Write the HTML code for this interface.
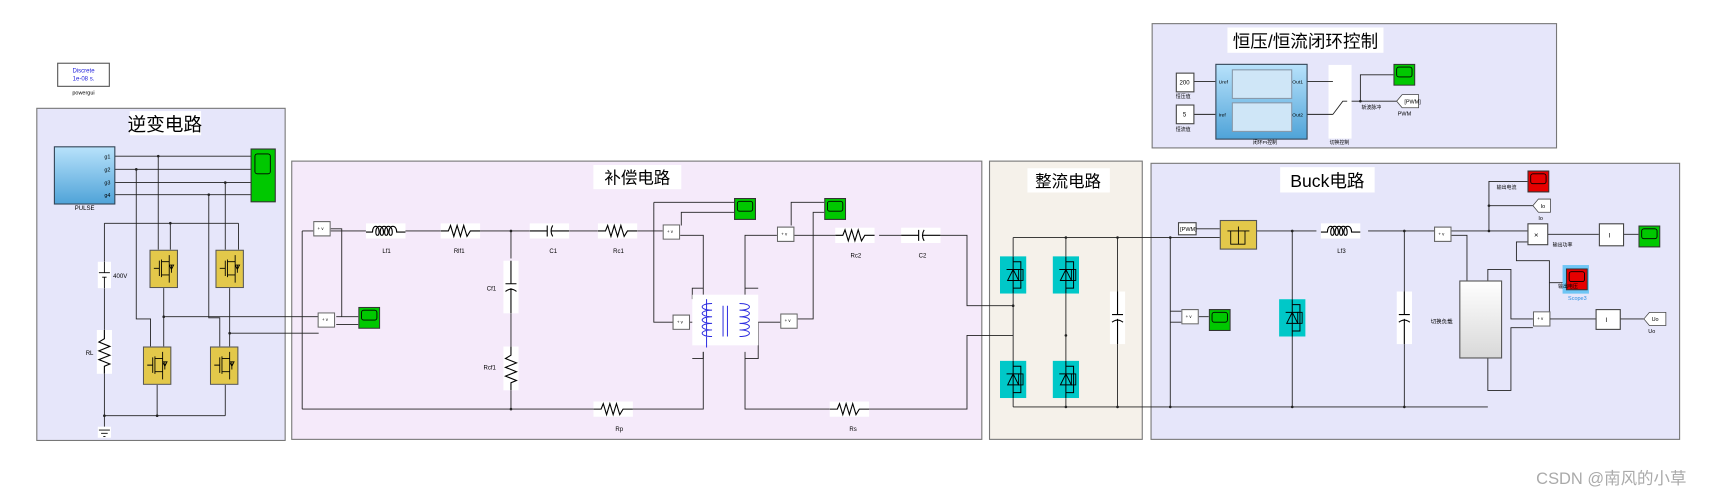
<!DOCTYPE html>
<html><head><meta charset="utf-8"><style>
html,body{margin:0;padding:0;background:#fff;}
svg{display:block;}
text{font-family:"Liberation Sans","Noto Sans CJK SC",sans-serif;}
</style></head><body>
<svg width="1723" height="496" viewBox="0 0 1568 451" preserveAspectRatio="none" xmlns="http://www.w3.org/2000/svg">
<defs>
<linearGradient id="pg" x1="0" y1="0" x2="0" y2="1"><stop offset="0" stop-color="#b8e2fb"/><stop offset="1" stop-color="#4fa3d8"/></linearGradient>
<linearGradient id="lg" x1="0" y1="0" x2="0" y2="1"><stop offset="0" stop-color="#fff"/><stop offset="1" stop-color="#d8d8d8"/></linearGradient>
<symbol id="res" viewBox="0 0 36 14" width="36" height="14"><rect width="36" height="14" fill="#fff"/><path d="M0 7H7L9 2L12 12L15 2L18 12L21 2L24 12L27 7H36" fill="none" stroke="#000" stroke-width="1"/></symbol>
<symbol id="resv" viewBox="0 0 14 40" width="14" height="40"><rect width="14" height="40" fill="#fff"/><path d="M7 0V8L2 11L12 15L2 19L12 23L2 27L12 31L7 33V40" fill="none" stroke="#000" stroke-width="1"/></symbol>
<symbol id="ind" viewBox="0 0 36 14" width="36" height="14"><rect width="36" height="14" fill="#fff"/><path d="M0 8H6C6 1 12 1 12 8C12 12 9 12 9 8C9 1 16 1 16 8C16 12 13 12 13 8C13 1 20 1 20 8C20 12 17 12 17 8C17 1 24 1 24 8C24 12 21 12 21 8C21 1 28 1 28 8H36" fill="none" stroke="#000" stroke-width="1"/></symbol>
<symbol id="cap" viewBox="0 0 36 14" width="36" height="14"><rect width="36" height="14" fill="#fff"/><path d="M0 7H16M16 2V12M21 2Q18 7 21 12M19 7H36" fill="none" stroke="#000" stroke-width="1"/></symbol>
<symbol id="capv" viewBox="0 0 14 48" width="14" height="48"><rect width="14" height="48" fill="#fff"/><path d="M7 0V21M2 21H12M2 28Q7 24 12 28M7 25V48" fill="none" stroke="#000" stroke-width="1"/></symbol>
<symbol id="scope" viewBox="0 0 20 20" width="20" height="20"><rect x="0.5" y="0.5" width="19" height="19" fill="#00c800" stroke="#333"/><rect x="3" y="3" width="14" height="9" rx="2" fill="none" stroke="#000" stroke-width="0.8"/></symbol>
<symbol id="rscope" viewBox="0 0 20 20" width="20" height="20"><rect x="0.5" y="0.5" width="19" height="19" fill="#e60000" stroke="#333"/><rect x="3" y="3" width="14" height="9" rx="2" fill="none" stroke="#000" stroke-width="0.8"/></symbol>
<symbol id="meas" viewBox="0 0 16 14" width="16" height="14"><rect x="0.5" y="0.5" width="15" height="13" fill="#fff" stroke="#666"/><text x="4" y="8" font-size="4">+ v</text></symbol>
<symbol id="mos" viewBox="0 0 26 35" width="26" height="35"><rect x="0.5" y="0.5" width="25" height="34" fill="#e3c84a" stroke="#555"/><path d="M4 17H9M9 10V24M11 9V25M11 11H18V5M11 23H18V30M18 11V23M20 14V21M18 14H22L20 18L18 14" fill="none" stroke="#000" stroke-width="0.8"/></symbol>
<symbol id="dio" viewBox="0 0 24 34" width="24" height="34"><rect width="24" height="34" fill="#00c8c8"/><path d="M12 0V34M6 12H18M7 22L12 12L17 22Z M12 5H19V29H12" fill="none" stroke="#000" stroke-width="0.9"/><rect x="17" y="12" width="4" height="10" fill="none" stroke="#000" stroke-width="0.8"/></symbol>
</defs>

<!-- group boxes -->
<rect x="33.5" y="98.5" width="226" height="302" fill="#e6e6fa" stroke="#777"/>
<rect x="265.5" y="146.5" width="628" height="253" fill="#f5eafa" stroke="#777"/>
<rect x="900.5" y="146.5" width="139" height="253" fill="#f5f1ea" stroke="#777"/>
<rect x="1047.5" y="148.5" width="481" height="251" fill="#e6e6fa" stroke="#777"/>
<rect x="1048.5" y="21.5" width="368" height="113" fill="#e6e6fa" stroke="#777"/>

<!-- titles -->
<rect x="118" y="101" width="65" height="22" fill="#fff"/><text x="150" y="119" font-size="17" text-anchor="middle">逆变电路</text>
<rect x="540" y="150" width="80" height="22" fill="#fff"/><text x="580" y="167" font-size="15" text-anchor="middle">补偿电路</text>
<rect x="935" y="153" width="75" height="22" fill="#fff"/><text x="972" y="170" font-size="15" text-anchor="middle">整流电路</text>
<rect x="1165" y="152" width="86" height="23" fill="#fff"/><text x="1208" y="170" font-size="16" text-anchor="middle">Buck电路</text>
<rect x="1117" y="25" width="142" height="23" fill="#fff"/><text x="1188" y="43" font-size="16" text-anchor="middle">恒压/恒流闭环控制</text>

<!-- powergui -->
<rect x="52.5" y="57.5" width="47" height="21" fill="#fff" stroke="#555"/>
<text x="76" y="66" font-size="5.5" fill="#22d" text-anchor="middle">Discrete</text>
<text x="76" y="73" font-size="5.5" fill="#22d" text-anchor="middle">1e-08 s.</text>
<text x="76" y="86" font-size="5" text-anchor="middle">powergui</text>

<g stroke="#222" stroke-width="0.8" fill="none">
<!-- inverter wiring -->
<path d="M104 142H228M104 154H228M104 166H228M104 177H228"/>
<path d="M144 142V227M124 154V290H137V315M205 166V227M190 177V289H200V315"/>
<path d="M95 203H217M155 203V227M217 203V227M95 203V238M95 262V300M95 340V388M95 378H205M143 350V378M205 350V378"/>
<path d="M149 262V315M209 262V315M149 288H290M209 303H290M275 210H285M275 210V372"/>
<path d="M301 210H333M367 210H401M436 210H482M518 210H544M580 210H603"/>
<path d="M465 210V235M465 285V315M465 355V372M275 372H540M575 372H640V320"/>
<path d="M306 288H320M301 208H311V288H326M306 295H326"/>
<!-- comp right -->
<path d="M595 184H668M595 184V293H612M619 214H640V268M628 293H640M620 205V193H668"/>
<path d="M640 262H630V272M640 320V326H630"/>
<path d="M678 268V214H707M678 320V372H755M790 372H880V305H922M678 262H690M678 326H690V293H710"/>
<path d="M723 214H760M800 214H820M856 214H880V278H922M720 205V184H750M726 290H740V193H750"/>
<!-- rectifier -->
<path d="M922 216H1065M922 216V233M970 216V233M922 267V328M970 267V328M922 362V370M970 362V370M922 370H1065M1017 216V265M1017 312V370"/>
<!-- buck -->
<path d="M1065 216H1110M1065 216V370M1065 283H1075M1065 293H1075M1091 288H1100"/>
<path d="M1088 208H1110M1143 210H1198M1245 210H1305M1176 210V272M1176 306V370M1278 210V265M1278 312V370M1065 370H1354"/>
<path d="M1321 210H1390M1355 210V165H1390M1355 187H1395M1321 214H1335V255M1354 255V245H1375V290H1395M1354 325V355H1375V298H1395"/>
<path d="M1408 213H1455M1477 213H1491M1390 220H1380V237H1410V290M1410 257H1425M1411 290H1452M1474 290H1496"/>
<!-- control -->
<path d="M1086 74H1106M1086 104H1106M1189 74H1209M1189 104H1209M1226 92H1271M1238 92V68H1268"/>
</g>

<!-- junction dots -->
<g fill="#222">
<circle cx="144" cy="142" r="1.2"/><circle cx="124" cy="154" r="1.2"/><circle cx="205" cy="166" r="1.2"/><circle cx="190" cy="177" r="1.2"/>
<circle cx="155" cy="203" r="1.2"/><circle cx="149" cy="288" r="1.2"/><circle cx="209" cy="303" r="1.2"/><circle cx="95" cy="378" r="1.2"/><circle cx="143" cy="378" r="1.2"/>
<circle cx="465" cy="210" r="1.2"/><circle cx="465" cy="372" r="1.2"/><circle cx="922" cy="278" r="1.2"/><circle cx="970" cy="305" r="1.2"/><circle cx="970" cy="216" r="1.2"/><circle cx="970" cy="370" r="1.2"/><circle cx="1017" cy="216" r="1.2"/><circle cx="1017" cy="370" r="1.2"/>
<circle cx="1065" cy="216" r="1.2"/><circle cx="1065" cy="370" r="1.2"/><circle cx="1176" cy="210" r="1.2"/><circle cx="1278" cy="210" r="1.2"/><circle cx="1176" cy="370" r="1.2"/><circle cx="1278" cy="370" r="1.2"/><circle cx="1355" cy="187" r="1.2"/><circle cx="1355" cy="210" r="1.2"/><circle cx="1410" cy="290" r="1.2"/><circle cx="1238" cy="92" r="1.2"/>
</g>

<!-- inverter blocks -->
<rect x="49.5" y="133.5" width="55" height="52" fill="url(#pg)" stroke="#345"/>
<g font-size="5"><text x="95" y="144">g1</text><text x="95" y="156">g2</text><text x="95" y="168">g3</text><text x="95" y="179">g4</text></g>
<text x="77" y="191" font-size="5.5" text-anchor="middle">PULSE</text>
<rect x="228.5" y="135.5" width="22" height="48" fill="#00c800" stroke="#333"/><rect x="232" y="140" width="14" height="18" rx="2" fill="none" stroke="#000" stroke-width="0.8"/>
<use href="#mos" x="136" y="227"/><use href="#mos" x="196" y="227"/><use href="#mos" x="130" y="315"/><use href="#mos" x="191" y="315"/>
<rect x="89" y="238" width="12" height="24" fill="#fff"/><path d="M90 248H100M93 252H97M95 238V248M95 252V262" stroke="#000" stroke-width="0.8"/>
<text x="103" y="253" font-size="5.5">400V</text>
<use href="#resv" x="88" y="300"/><text x="78" y="323" font-size="5.5">RL</text>
<rect x="89" y="388" width="12" height="10" fill="#fff"/><path d="M90 391H100M92 394H98M94 397H96" stroke="#000" stroke-width="0.8"/>

<!-- compensation blocks -->
<use href="#meas" x="285" y="201"/><use href="#meas" x="289" y="284"/><use href="#scope" x="326" y="279"/>
<use href="#ind" x="333" y="203"/><text x="348" y="230" font-size="5.5">Lf1</text>
<use href="#res" x="401" y="203"/><text x="413" y="230" font-size="5.5">Rlf1</text>
<use href="#cap" x="482" y="203"/><text x="500" y="230" font-size="5.5">C1</text>
<use href="#res" x="544" y="203"/><text x="558" y="230" font-size="5.5">Rc1</text>
<use href="#capv" x="458" y="237"/><text x="443" y="264" font-size="5.5">Cf1</text>
<use href="#resv" x="458" y="315"/><text x="440" y="336" font-size="5.5">Rcf1</text>
<use href="#res" x="540" y="365"/><text x="560" y="392" font-size="5.5">Rp</text>
<use href="#res" x="755" y="365"/><text x="773" y="392" font-size="5.5">Rs</text>
<use href="#meas" x="603" y="204"/><use href="#meas" x="612" y="286"/><use href="#scope" x="668" y="180"/>
<rect x="630" y="268" width="60" height="46" fill="#fff"/>
<path d="M643 272V316M648 276C636 276 636 282 648 282C636 282 636 288 648 288C636 288 636 294 648 294C636 294 636 300 648 300C636 300 636 306 648 306M673 276C685 276 685 282 673 282C685 282 685 288 673 288C685 288 685 294 673 294C685 294 685 300 673 300C685 300 685 306 673 306M658 278V306M662 278V306" stroke="#2a2ae0" stroke-width="0.9" fill="none"/>
<use href="#meas" x="707" y="206"/><use href="#meas" x="710" y="285"/><use href="#scope" x="750" y="180"/>
<use href="#res" x="760" y="207"/><text x="774" y="234" font-size="5.5">Rc2</text>
<use href="#cap" x="820" y="207"/><text x="836" y="234" font-size="5.5">C2</text>

<!-- rectifier -->
<use href="#dio" x="910" y="233"/><use href="#dio" x="958" y="233"/><use href="#dio" x="910" y="328"/><use href="#dio" x="958" y="328"/>
<use href="#capv" x="1010" y="265"/>

<!-- buck -->
<rect x="1072.5" y="202.5" width="16" height="11" fill="#fff" stroke="#444"/><text x="1074" y="210" font-size="5">[PWM]</text>
<rect x="1110.5" y="200.5" width="33" height="26" fill="#e3c84a" stroke="#555"/><path d="M1117 210H1137M1120 210V222H1133V210M1127 206V222" stroke="#000" stroke-width="0.8" fill="none"/>
<use href="#ind" x="1202" y="203"/><text x="1217" y="230" font-size="5.5">Lf3</text>
<use href="#dio" x="1164" y="272"/>
<use href="#capv" x="1271" y="265"/>
<use href="#meas" x="1305" y="206"/><use href="#meas" x="1075" y="281"/><use href="#scope" x="1100" y="281"/>
<rect x="1328.5" y="255.5" width="38" height="70" fill="url(#lg)" stroke="#555"/>
<text x="1302" y="294" font-size="5">切换负载</text>
<use href="#rscope" x="1390" y="155"/><text x="1362" y="172" font-size="4.5">输出电流</text>
<path d="M1395 187L1400 181H1411V193H1400Z" fill="#fff" stroke="#444" stroke-width="0.7"/><text x="1402" y="189" font-size="5">Io</text><text x="1400" y="200" font-size="5">Io</text>
<rect x="1390.5" y="203.5" width="18" height="19" fill="#fff" stroke="#444"/><text x="1396" y="216" font-size="7">×</text>
<text x="1413" y="224" font-size="4.5">输出功率</text>
<rect x="1455.5" y="203.5" width="22" height="20" fill="#fff" stroke="#444"/><text x="1464" y="216" font-size="6">I</text>
<use href="#scope" x="1491" y="205"/>
<rect x="1422" y="241" width="24" height="26" fill="#6fc6f5"/><use href="#rscope" x="1425" y="244"/>
<text x="1427" y="273" font-size="5" fill="#2a8ee0">Scope3</text><text x="1418" y="262" font-size="4.5">输出电压</text>
<use href="#meas" x="1395" y="283"/>
<rect x="1452.5" y="281.5" width="22" height="18" fill="#fff" stroke="#444"/><text x="1461" y="293" font-size="6">I</text>
<path d="M1496 290L1501 284H1516V296H1501Z" fill="#fff" stroke="#444" stroke-width="0.7"/><text x="1503" y="292" font-size="5">Uo</text><text x="1500" y="303" font-size="5">Uo</text>

<!-- control -->
<rect x="1070.5" y="66.5" width="16" height="17" fill="#fff" stroke="#444"/><text x="1078" y="77" font-size="5.5" text-anchor="middle">200</text><text x="1070" y="89" font-size="4.5">恒压值</text>
<rect x="1070.5" y="95.5" width="16" height="17" fill="#fff" stroke="#444"/><text x="1078" y="106" font-size="5.5" text-anchor="middle">5</text><text x="1070" y="119" font-size="4.5">恒流值</text>
<rect x="1106.5" y="58.5" width="83" height="68" fill="url(#pg)" stroke="#345"/>
<rect x="1121.5" y="63.5" width="54" height="26" fill="#cfe6f7" stroke="#89a"/><rect x="1121.5" y="93.5" width="54" height="26" fill="#cfe6f7" stroke="#89a"/>
<g font-size="4.5"><text x="1109" y="76">Uref</text><text x="1109" y="106">Iref</text><text x="1176" y="76">Out1</text><text x="1176" y="106">Out2</text></g>
<text x="1140" y="131" font-size="4.5">闭环PI控制</text>
<rect x="1209" y="59" width="21" height="67" fill="#fff"/>
<path d="M1209 74H1213M1209 104H1213M1213 104L1222 92H1226" stroke="#222" stroke-width="0.8" fill="none"/>
<text x="1210" y="131" font-size="4.5">切换控制</text>
<use href="#scope" x="1268" y="58"/>
<path d="M1271 92L1276 86H1291V98H1276Z" fill="#fff" stroke="#444" stroke-width="0.7"/><text x="1278" y="94" font-size="5">[PWM]</text><text x="1272" y="105" font-size="5">PWM</text>
<text x="1239" y="99" font-size="4.5">斩波脉冲</text>

<text x="1398" y="440" font-size="15" fill="#aaa">CSDN @南风的小草</text>
</svg>
</body></html>
